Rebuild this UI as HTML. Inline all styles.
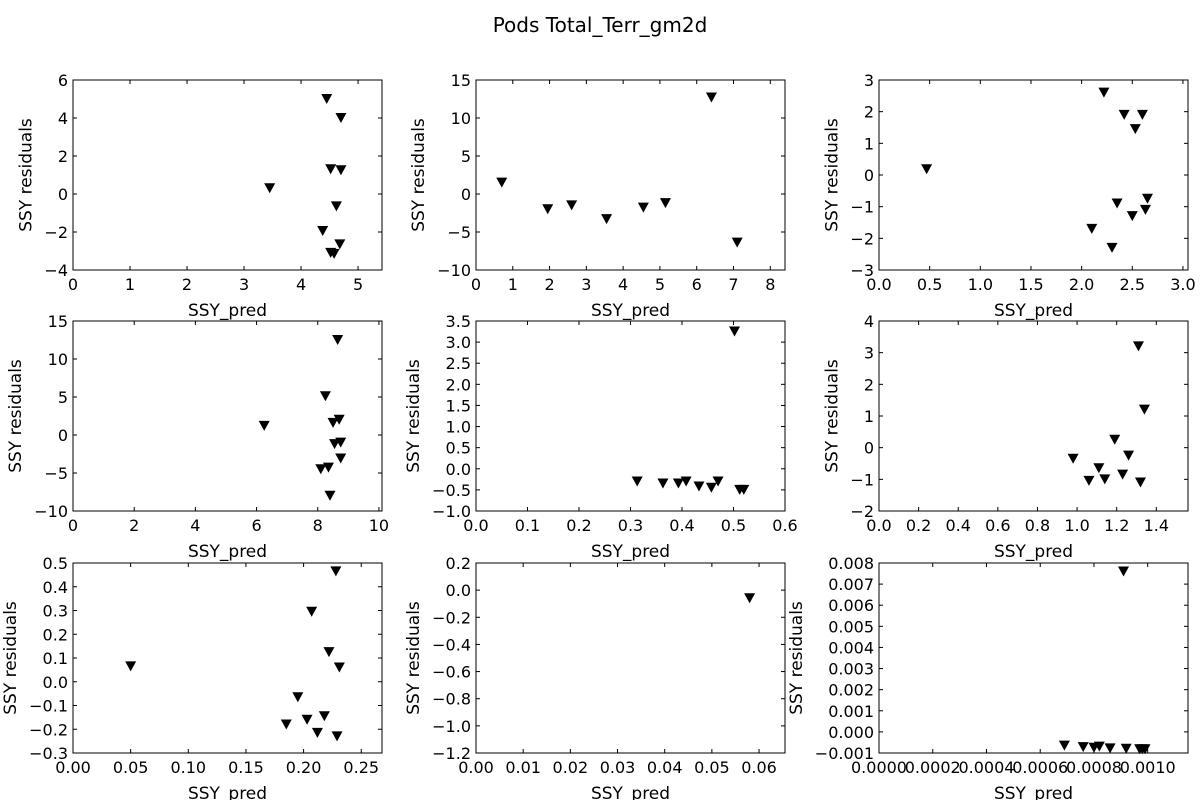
<!DOCTYPE html>
<html><head><meta charset="utf-8"><style>
html,body{margin:0;padding:0;background:#fff;}
svg text{font-family:"DejaVu Sans","Liberation Sans",sans-serif;fill:#000;}
</style></head><body>
<svg id="fig" width="1200" height="800" xmlns="http://www.w3.org/2000/svg">
<rect width="1200" height="800" fill="#fff"/>
<text x="600" y="32" font-size="20" text-anchor="middle">Pods Total_Terr_gm2d</text>
</svg>
<script>
const xs1=[3.45,4.45,4.7,4.52,4.7,4.62,4.38,4.68,4.52,4.58];
const ys1=[0.3,5.0,4.0,1.3,1.25,-0.65,-1.95,-2.65,-3.1,-3.15];
const xs2=[0.7,1.95,2.6,3.55,4.55,5.15,6.4,7.1];
const ys2=[1.5,-2,-1.5,-3.3,-1.8,-1.2,12.7,-6.4];
const xs3=[0.47,2.1,2.22,2.3,2.35,2.42,2.5,2.53,2.6,2.63,2.65];
const ys3=[0.18,-1.7,2.6,-2.3,-0.9,1.9,-1.3,1.45,1.9,-1.1,-0.75];
const xs4=[6.25,8.25,8.65,8.5,8.7,8.55,8.75,8.75,8.1,8.35,8.4];
const ys4=[1.2,5.1,12.5,1.6,2.0,-1.2,-1,-3.1,-4.5,-4.3,-8];
const xs5=[0.313,0.363,0.393,0.408,0.433,0.457,0.47,0.502,0.512,0.52];
const ys5=[-0.3,-0.35,-0.35,-0.3,-0.42,-0.45,-0.3,3.25,-0.5,-0.5];
const xs6=[0.98,1.06,1.11,1.14,1.19,1.23,1.26,1.31,1.32,1.34];
const ys6=[-0.35,-1.05,-0.65,-1.0,0.25,-0.85,-0.25,3.2,-1.1,1.2];
const xs7=[0.05,0.185,0.195,0.203,0.207,0.212,0.218,0.222,0.228,0.229,0.231];
const ys7=[0.065,-0.18,-0.065,-0.16,0.295,-0.215,-0.145,0.125,0.465,-0.23,0.06];
const xs8=[0.058];
const ys8=[-0.06];
const xs9=[0.00069,0.00076,0.0008,0.00082,0.00086,0.00091,0.00092,0.00097,0.00098,0.00099];
const ys9=[-0.00065,-0.00072,-0.00075,-0.0007,-0.00078,0.0076,-0.0008,-0.00082,-0.00082,-0.00082];
const xt1=["0","1","2","3","4","5"], yt1=["−4","−2","0","2","4","6"];
const xt2=["0","1","2","3","4","5","6","7","8"], yt2=["−10","−5","0","5","10","15"];
const xt3=["0.0","0.5","1.0","1.5","2.0","2.5","3.0"], yt3=["−3","−2","−1","0","1","2","3"];
const xt4=["0","2","4","6","8","10"], yt4=["−10","−5","0","5","10","15"];
const xt5=["0.0","0.1","0.2","0.3","0.4","0.5","0.6"], yt5=["−1.0","−0.5","0.0","0.5","1.0","1.5","2.0","2.5","3.0","3.5"];
const xt6=["0.0","0.2","0.4","0.6","0.8","1.0","1.2","1.4"], yt6=["−2","−1","0","1","2","3","4"];
const xt7=["0.00","0.05","0.10","0.15","0.20","0.25"], yt7=["−0.3","−0.2","−0.1","0.0","0.1","0.2","0.3","0.4","0.5"];
const xt8=["0.00","0.01","0.02","0.03","0.04","0.05","0.06"], yt8=["−1.2","−1.0","−0.8","−0.6","−0.4","−0.2","0.0","0.2"];
const xt9=["0.0000","0.0002","0.0004","0.0006","0.0008","0.0010"], yt9=["−0.001","0.000","0.001","0.002","0.003","0.004","0.005","0.006","0.007","0.008"];
const panels=[
 {xs:xs1,ys:ys1,xt:xt1,yt:yt1,xl:[0,5.42],yl:[-4,6],c:0,r:0},
 {xs:xs2,ys:ys2,xt:xt2,yt:yt2,xl:[0,8.4],yl:[-10,15],c:1,r:0},
 {xs:xs3,ys:ys3,xt:xt3,yt:yt3,xl:[0,3.05],yl:[-3,3],c:2,r:0},
 {xs:xs4,ys:ys4,xt:xt4,yt:yt4,xl:[0,10.1],yl:[-10,15],c:0,r:1},
 {xs:xs5,ys:ys5,xt:xt5,yt:yt5,xl:[0,0.6],yl:[-1,3.5],c:1,r:1},
 {xs:xs6,ys:ys6,xt:xt6,yt:yt6,xl:[0,1.56],yl:[-2,4],c:2,r:1},
 {xs:xs7,ys:ys7,xt:xt7,yt:yt7,xl:[0,0.268],yl:[-0.3,0.5],c:0,r:2},
 {xs:xs8,ys:ys8,xt:xt8,yt:yt8,xl:[0,0.0655],yl:[-1.2,0.2],c:1,r:2},
 {xs:xs9,ys:ys9,xt:xt9,yt:yt9,xl:[0,0.00115],yl:[-0.001,0.008],c:2,r:2}
];
const svg=document.getElementById('fig');
const NS='http://www.w3.org/2000/svg';
function mk(tag,at,parent){const e=document.createElementNS(NS,tag);for(const k in at)e.setAttribute(k,at[k]);(parent||svg).appendChild(e);return e;}
const lefts=[73,476,879], tops=[80,321,563], W=309, H=190;
panels.forEach((p,i)=>{
 const L=lefts[p.c], T=tops[p.r], B=T+H, R=L+W;
 const g=mk('g',{});
 
 
 const sx=v=>L+(v-p.xl[0])/(p.xl[1]-p.xl[0])*W;
 const sy=v=>B-(v-p.yl[0])/(p.yl[1]-p.yl[0])*H;
 const x0=parseFloat(p.xt[0].replace('−','-')), dx=parseFloat(p.xt[1].replace('−','-'))-x0;
 p.xt.forEach((t,k)=>{const v=x0+k*dx,x=sx(v);
  mk('line',{x1:x,x2:x,y1:B,y2:B-4,stroke:'#000'},g);mk('line',{x1:x,x2:x,y1:T,y2:T+4,stroke:'#000'},g);
  const tx=mk('text',{x:x,y:B+20,'font-size':16,'text-anchor':'middle'},g);tx.textContent=t;
  
  });
 const y0=parseFloat(p.yt[0].replace('−','-')), dy=parseFloat(p.yt[1].replace('−','-'))-y0;
 let maxw=0;
 p.yt.forEach((t,k)=>{const v=y0+k*dy,y=sy(v);
  mk('line',{x1:L,x2:L+4,y1:y,y2:y,stroke:'#000'},g);mk('line',{x1:R,x2:R-4,y1:y,y2:y,stroke:'#000'},g);
  const tx=mk('text',{x:L-5,y:y+6,'font-size':16,'text-anchor':'end'},g);tx.textContent=t;
  
  
  maxw=Math.max(maxw,tx.getComputedTextLength());});
 p.xs.forEach((xv,k)=>{const x=sx(xv),y=sy(p.ys[k]);
  const m=mk('polygon',{points:`${x-5.5},${y-5} ${x+5.5},${y-5} ${x},${y+5}`,fill:'#000'},g);
  
  });
 mk('rect',{x:L,y:T,width:W,height:H,fill:'none',stroke:'#000','stroke-width':1},g);
 const xl=mk('text',{x:L+W/2,y:B+46,'font-size':17,'text-anchor':'middle'},g);xl.textContent='SSY_pred';
 
 
 const lx=L-5-maxw-13, ly=T+H/2;
 const yl=mk('text',{x:lx,y:ly,'font-size':17,'text-anchor':'middle',transform:`rotate(-90 ${lx} ${ly})`},g);yl.textContent='SSY residuals';
 
 
});
</script>
</body></html>
